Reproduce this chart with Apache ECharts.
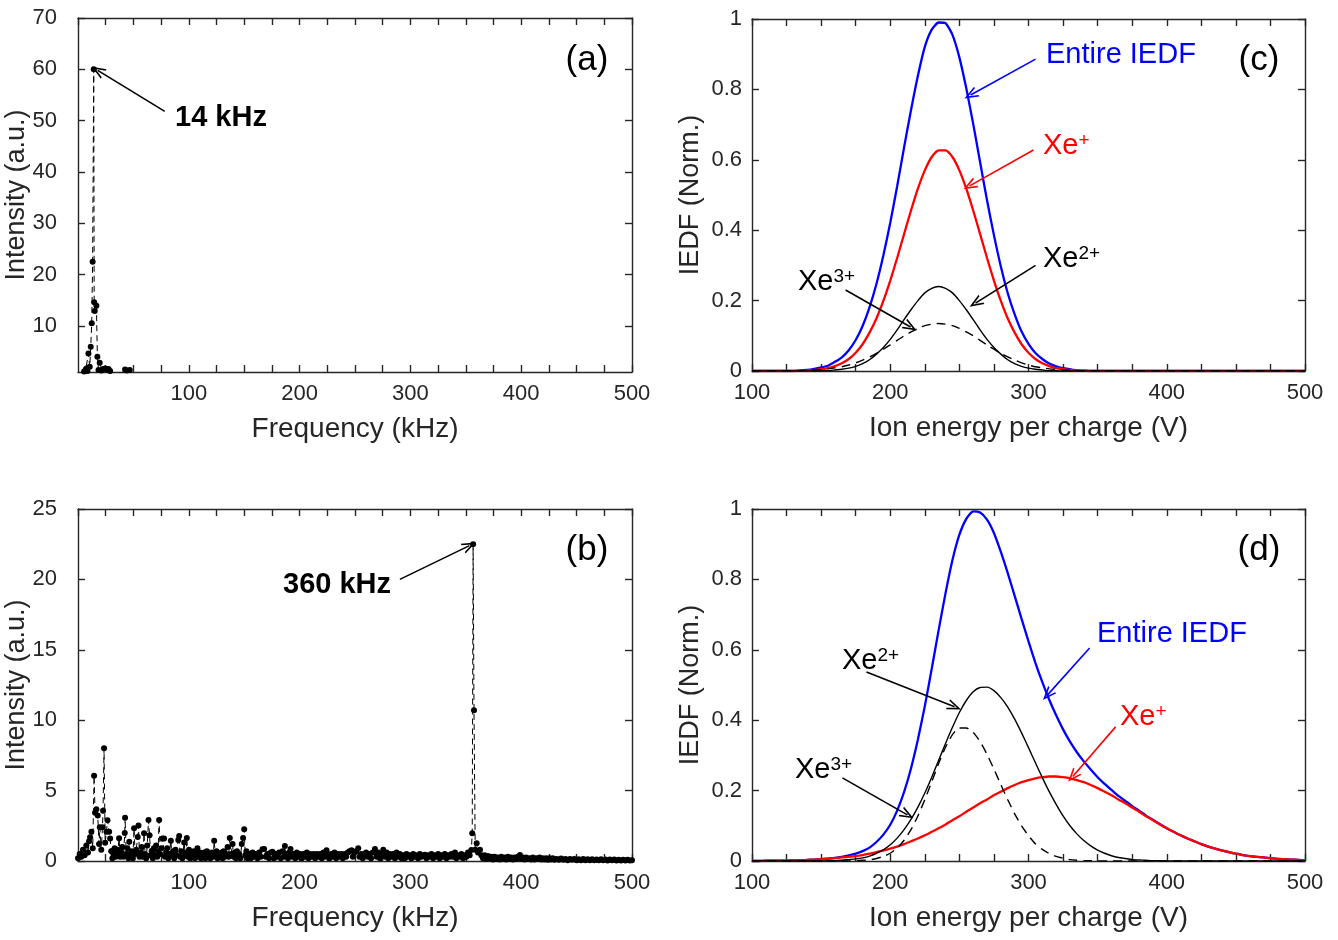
<!DOCTYPE html>
<html>
<head>
<meta charset="utf-8">
<title>FFT spectra and IEDF</title>
<script src="https://cdn.jsdelivr.net/npm/echarts@6/dist/echarts.min.js"></script>
<style>
  html, body { margin: 0; padding: 0; background: #fff; }
  #main { width: 1338px; height: 940px; }
</style>
</head>
<body>
<div id="main"></div>
<script>
// (a) oscillation spectrum, [kHz, a.u.]
var specA = [
  [3, 0.6], [5.5, 1.1], [7.0, 1.5], [7.6, 1.7], [8.5, 1.2], [9.4, 4.6], [10.6, 2.0], [11.5, 5.9],
  [12.4, 10.5], [13.2, 22.5], [14.2, 60], [14.6, 14.6], [15.1, 12.9], [16.6, 13.9], [17.5, 3.95],
  [18.5, 1.4], [19.6, 2.8], [21, 1.3], [22.5, 1.6], [24.5, 1.7], [26, 1.5], [27.5, 1.6], [29, 1.2],
  [31, 0.8], [35, 0.9], [40, 0.9], [42.5, 1.5], [44, 1.3], [46.7, 1.4], [48, 0.9], [52, 0.7],
  [60, 0.5], [100, 0.3], [200, 0.2], [300, 0.2], [357, 0.8], [400, 0.15], [500, 0.1]
];

// (b) oscillation spectrum, [kHz, a.u.]
var specB = [
  [0, 0.2], [1.5, 0.5], [3, 0.3], [4.5, 0.8], [6, 0.4], [7.5, 1.1], [9, 0.6], [10, 1.4], [10.9, 1.68],
  [12.1, 2.08], [13.3, 0.9], [14.5, 6.06], [15.4, 3.43], [16.6, 3.67], [17.8, 3.24], [19, 1.2], [19.7, 2.39],
  [21, 0.8], [22.1, 2.39], [22.6, 3.57], [23.5, 8.0], [24.5, 1.3], [25.7, 2.08], [26.6, 2.9], [28.1, 2.08],
  [29, 1.6], [30, 0.7], [31, 0.2], [32, 0.5], [33, 0.9], [34, 0.3], [35, 0.6], [36, 0.8], [37.1, 1.61],
  [38, 0.3], [39, 0.6], [40, 1.0], [41, 0.3], [42.2, 1.98], [42.5, 3.08], [43.5, 0.5], [44.5, 0.9], [45.5, 0.2],
  [46.3, 1.37], [47.5, 0.4], [48.5, 0.7], [49.5, 0.2], [50.6, 2.32], [51.5, 0.5], [52.5, 0.8], [53.9, 1.7],
  [54.6, 2.53], [55.5, 0.3], [56.5, 0.6], [57.5, 1.0], [58.5, 0.3], [59.6, 1.97], [60.5, 0.5], [61.5, 0.2],
  [62.5, 1.1], [63.6, 2.91], [64.6, 1.82], [65.5, 0.4], [66.5, 0.7], [67.5, 0.2], [68.5, 0.9], [69.5, 0.4],
  [70.5, 1.1], [71.5, 0.3], [72.3, 0.7], [73.2, 2.91], [74.2, 0.5], [75.2, 0.9], [76.2, 1.6], [77.7, 1.6],
  [78.5, 0.3], [79.5, 0.6], [80.5, 0.9], [81.5, 0.2], [82.5, 0.5], [83.8, 1.44], [84.8, 0.4], [85.8, 0.7],
  [86.8, 0.2], [88, 0.8], [89, 0.4], [90.5, 1.5], [91.3, 1.78], [92.2, 0.3], [93.2, 0.7], [94.2, 0.2],
  [95.8, 1.32], [96.8, 0.4], [97.6, 0.6], [98.2, 1.63], [99.2, 0.3], [100.2, 0.8], [101.2, 0.2], [102.5, 0.6],
  [103.5, 0.3], [104.5, 0.7], [105.5, 0.2], [106.5, 0.5], [107.8, 0.9], [108.8, 0.3], [110, 0.6], [111, 0.2],
  [112, 0.5], [113, 0.3], [114, 0.6], [115, 0.2], [116.3, 0.7], [117.5, 0.3], [118.5, 0.5], [119.5, 0.2],
  [120.8, 0.6], [122, 0.3], [122.9, 1.44], [124, 0.4], [125, 0.7], [126, 0.2], [127.2, 0.5], [128.5, 0.3],
  [129.5, 0.6], [130.5, 0.2], [131.5, 0.7], [132.5, 0.3], [133.5, 0.5], [135, 1.0], [136, 0.3], [137, 1.63],
  [138.2, 0.5], [139.5, 1.2], [140.5, 0.3], [141.5, 0.6], [142.5, 0.2], [143.5, 0.7], [144.5, 0.3], [145.5, 0.5],
  [146.5, 0.2], [147.8, 1.2], [149, 1.63], [150, 2.25], [151, 0.4], [152, 0.7], [153, 0.2], [154.5, 0.5],
  [156, 0.2], [157.5, 0.6], [159, 0.3], [160.5, 0.5], [162, 0.2], [163.5, 0.6], [165, 0.3], [166.5, 0.83],
  [168, 0.85], [169.5, 0.3], [171, 0.5], [172.5, 0.2], [174, 0.6], [175.5, 0.66], [177, 0.2], [178.5, 0.5],
  [180, 0.3], [181.5, 0.6], [183, 0.2], [184.5, 0.7], [186, 0.3], [186.7, 1.07], [188, 0.5], [189.5, 0.2],
  [190.8, 0.6], [191.8, 0.85], [193, 0.3], [194.5, 0.5], [196, 0.2], [197.5, 0.6], [199, 0.3], [200.5, 0.5],
  [202, 0.2], [203.5, 0.5], [205, 0.3], [206.5, 0.6], [208, 0.2], [209.5, 0.5], [211, 0.3], [212.5, 0.5],
  [214, 0.2], [215.5, 0.5], [217, 0.3], [218.5, 0.5], [220, 0.2], [221.5, 0.6], [223, 0.3], [224.3, 0.76],
  [225.5, 0.4], [227, 0.2], [228.5, 0.5], [230, 0.3], [231.5, 0.6], [233, 0.2], [234.5, 0.5], [236, 0.3],
  [237.5, 0.5], [239, 0.2], [240.5, 0.5], [242, 0.3], [243.5, 0.6], [245, 0.7], [246.9, 0.76], [248, 0.3],
  [249.5, 0.6], [251, 0.7], [252.9, 0.9], [254, 0.3], [255.5, 0.5], [257, 0.2], [258.5, 0.5], [260, 0.6],
  [261.5, 0.3], [263, 0.5], [264.5, 0.2], [266, 0.6], [268, 0.85], [269.5, 0.3], [271, 0.6], [272.5, 0.2],
  [274, 0.5], [275.5, 0.8], [277, 0.3], [278.5, 0.6], [280, 0.2], [281.5, 0.5], [283, 0.3], [284.5, 0.5],
  [286, 0.2], [287.5, 0.6], [289, 0.3], [290.5, 0.5], [292, 0.2], [293.5, 0.4], [295, 0.2], [296.5, 0.5],
  [298, 0.3], [299.5, 0.4], [301, 0.2], [302.5, 0.5], [304, 0.3], [305.5, 0.4], [307, 0.2], [308.5, 0.5],
  [310, 0.3], [311.5, 0.4], [313, 0.45], [314.5, 0.2], [316, 0.4], [317.5, 0.3], [319, 0.5], [320.5, 0.2],
  [322, 0.4], [323.5, 0.3], [325, 0.5], [326.5, 0.2], [328, 0.4], [329.5, 0.3], [331, 0.5], [332.5, 0.2],
  [334, 0.4], [335.5, 0.3], [337, 0.5], [338.5, 0.3], [340.2, 0.6], [341.5, 0.2], [343, 0.4], [344.5, 0.3],
  [346, 0.5], [347.5, 0.2], [349, 0.4], [350.5, 0.3], [352, 0.6], [353.5, 0.4], [355, 0.78], [355.8, 1.97],
  [356.6, 22.5], [357.4, 10.7], [358.5, 0.8], [359.8, 1.26], [361, 0.6], [362.8, 0.8], [364, 0.4], [365.5, 0.2],
  [367, 0.4], [368.5, 0.15], [370, 0.35], [371.5, 0.2], [373, 0.3], [374.5, 0.1], [376, 0.3], [377.5, 0.15],
  [379, 0.25], [380.5, 0.1], [382, 0.3], [383.5, 0.15], [385, 0.25], [386.5, 0.1], [388, 0.3], [389.5, 0.15],
  [391, 0.25], [392.5, 0.1], [394, 0.25], [395.5, 0.15], [397, 0.3], [398.9, 0.43], [400, 0.15], [401.5, 0.25],
  [403, 0.1], [404.5, 0.25], [406, 0.15], [407.5, 0.2], [409, 0.1], [410.5, 0.25], [412, 0.1], [413.5, 0.2],
  [415, 0.15], [416.5, 0.25], [418, 0.1], [419.5, 0.2], [421, 0.1], [422.5, 0.2], [424, 0.08], [425.5, 0.2],
  [427, 0.1], [428.5, 0.2], [430, 0.08], [432, 0.15], [434, 0.08], [436, 0.18], [438, 0.08], [440, 0.15],
  [442, 0.06], [444, 0.15], [446, 0.08], [448, 0.15], [450, 0.06], [452, 0.12], [454, 0.06], [456, 0.15],
  [458, 0.06], [460, 0.12], [462, 0.05], [464, 0.12], [466, 0.05], [468, 0.1], [470, 0.05], [472, 0.12],
  [474, 0.05], [476, 0.1], [478, 0.04], [480, 0.1], [482, 0.05], [484, 0.1], [486, 0.04], [488, 0.08],
  [490, 0.04], [492, 0.08], [494, 0.04], [496, 0.08], [498, 0.04], [500, 0.06]
];

// ion energy per charge (V), shared by (c) and (d)
var energy = [
  100, 105, 110, 115, 120, 125, 130, 135, 140, 145, 150, 155, 160, 165, 170, 175, 180, 185, 190, 195,
  200, 205, 210, 215, 220, 225, 230, 235, 240, 245, 250, 255, 260, 265, 270, 275, 280, 285, 290, 295,
  300, 305, 310, 315, 320, 325, 330, 335, 340, 345, 350, 355, 360, 365, 370, 375, 380, 385, 390, 395,
  400, 405, 410, 415, 420, 425, 430, 435, 440, 445, 450, 455, 460, 465, 470, 475, 480, 485, 490, 495, 500
];

// (c)
var cEntire = [
  0, 0, 0, 0, 0, 0, 0, 0.002, 0.003, 0.006, 0.010, 0.015, 0.026, 0.039, 0.059, 0.088, 0.128, 0.181, 0.247, 0.328,
  0.421, 0.525, 0.635, 0.741, 0.839, 0.921, 0.970, 0.990, 0.988, 0.955, 0.891, 0.803, 0.702, 0.593, 0.485, 0.386, 0.297, 0.221, 0.161, 0.112,
  0.077, 0.051, 0.034, 0.021, 0.013, 0.008, 0.005, 0.002, 0.001, 0, 0, 0, 0, 0, 0, 0, 0, 0, 0, 0,
  0, 0, 0, 0, 0, 0, 0, 0, 0, 0, 0, 0, 0, 0, 0, 0, 0, 0, 0, 0, 0
];
var cXe1 = [
  0, 0, 0, 0, 0, 0, 0, 0.001, 0.001, 0.003, 0.005, 0.008, 0.014, 0.022, 0.034, 0.052, 0.076, 0.109, 0.149, 0.199,
  0.257, 0.321, 0.389, 0.456, 0.518, 0.570, 0.608, 0.627, 0.627, 0.608, 0.570, 0.518, 0.456, 0.389, 0.321, 0.257, 0.199, 0.149, 0.109, 0.076,
  0.052, 0.034, 0.022, 0.014, 0.008, 0.005, 0.003, 0.001, 0.001, 0, 0, 0, 0, 0, 0, 0, 0, 0, 0, 0,
  0, 0, 0, 0, 0, 0, 0, 0, 0, 0, 0, 0, 0, 0, 0, 0, 0, 0, 0, 0, 0
];
var cXe2 = [
  0, 0, 0, 0, 0, 0, 0, 0, 0, 0, 0.001, 0.001, 0.003, 0.005, 0.008, 0.013, 0.021, 0.032, 0.048, 0.067,
  0.090, 0.117, 0.146, 0.174, 0.200, 0.222, 0.235, 0.240, 0.235, 0.222, 0.200, 0.174, 0.146, 0.117, 0.090, 0.067, 0.048, 0.032, 0.021, 0.013,
  0.008, 0.005, 0.003, 0.001, 0.001, 0, 0, 0, 0, 0, 0, 0, 0, 0, 0, 0, 0, 0, 0, 0,
  0, 0, 0, 0, 0, 0, 0, 0, 0, 0, 0, 0, 0, 0, 0, 0, 0, 0, 0, 0, 0
];
var cXe3 = [
  0, 0, 0, 0, 0, 0, 0, 0.001, 0.002, 0.003, 0.004, 0.006, 0.009, 0.012, 0.017, 0.023, 0.031, 0.040, 0.050, 0.062,
  0.074, 0.087, 0.100, 0.111, 0.121, 0.129, 0.133, 0.135, 0.133, 0.129, 0.121, 0.111, 0.100, 0.087, 0.074, 0.062, 0.050, 0.040, 0.031, 0.023,
  0.017, 0.012, 0.009, 0.006, 0.004, 0.003, 0.002, 0.001, 0, 0, 0, 0, 0, 0, 0, 0, 0, 0, 0, 0,
  0, 0, 0, 0, 0, 0, 0, 0, 0, 0, 0, 0, 0, 0, 0, 0, 0, 0, 0, 0, 0
];

// (d)
var dEntire = [
  0, 0, 0.001, 0.001, 0.001, 0.001, 0.002, 0.002, 0.003, 0.004, 0.005, 0.007, 0.009, 0.012, 0.016, 0.021, 0.028, 0.038, 0.054, 0.075,
  0.103, 0.143, 0.196, 0.263, 0.345, 0.440, 0.546, 0.656, 0.761, 0.855, 0.927, 0.972, 0.993, 0.990, 0.970, 0.932, 0.878, 0.818, 0.753, 0.688,
  0.624, 0.563, 0.508, 0.458, 0.414, 0.374, 0.339, 0.309, 0.283, 0.260, 0.238, 0.219, 0.202, 0.185, 0.171, 0.156, 0.143, 0.129, 0.117, 0.105,
  0.093, 0.083, 0.073, 0.064, 0.056, 0.048, 0.041, 0.035, 0.030, 0.025, 0.021, 0.017, 0.014, 0.012, 0.010, 0.008, 0.006, 0.005, 0.004, 0.003, 0.002
];
var dXe1 = [
  0, 0, 0.001, 0.001, 0.001, 0.001, 0.002, 0.002, 0.003, 0.004, 0.005, 0.006, 0.008, 0.010, 0.012, 0.014, 0.017, 0.021, 0.025, 0.030,
  0.035, 0.041, 0.048, 0.056, 0.064, 0.073, 0.083, 0.093, 0.104, 0.116, 0.127, 0.140, 0.152, 0.164, 0.175, 0.187, 0.197, 0.207, 0.216, 0.224,
  0.230, 0.235, 0.238, 0.240, 0.240, 0.238, 0.235, 0.230, 0.224, 0.216, 0.207, 0.197, 0.187, 0.175, 0.164, 0.152, 0.140, 0.127, 0.116, 0.104,
  0.093, 0.083, 0.073, 0.064, 0.056, 0.048, 0.041, 0.035, 0.030, 0.025, 0.021, 0.017, 0.014, 0.012, 0.010, 0.008, 0.006, 0.005, 0.004, 0.003, 0.002
];
var dXe2 = [
  0, 0, 0, 0, 0, 0, 0, 0, 0, 0, 0, 0.001, 0.001, 0.002, 0.004, 0.006, 0.009, 0.014, 0.022, 0.032,
  0.046, 0.065, 0.089, 0.118, 0.153, 0.193, 0.238, 0.286, 0.334, 0.380, 0.422, 0.456, 0.481, 0.493, 0.494, 0.484, 0.464, 0.437, 0.403, 0.364,
  0.322, 0.279, 0.237, 0.197, 0.161, 0.128, 0.100, 0.077, 0.058, 0.043, 0.031, 0.022, 0.015, 0.010, 0.007, 0.004, 0.003, 0.002, 0.001, 0.001,
  0, 0, 0, 0, 0, 0, 0, 0, 0, 0, 0, 0, 0, 0, 0, 0, 0, 0, 0, 0, 0
];
var dXe3 = [
  0, 0, 0, 0, 0, 0, 0, 0, 0, 0, 0, 0, 0, 0, 0, 0.001, 0.002, 0.003, 0.007, 0.013,
  0.022, 0.037, 0.059, 0.089, 0.128, 0.174, 0.225, 0.277, 0.323, 0.359, 0.378, 0.378, 0.365, 0.339, 0.303, 0.261, 0.217, 0.174, 0.134, 0.100,
  0.072, 0.049, 0.033, 0.021, 0.013, 0.008, 0.004, 0.002, 0.001, 0.001, 0, 0, 0, 0, 0, 0, 0, 0, 0, 0,
  0, 0, 0, 0, 0, 0, 0, 0, 0, 0, 0, 0, 0, 0, 0, 0, 0, 0, 0, 0, 0
];

// annotation arrows [fromX, fromY, toX, toY] in data units
var arrowA = [[78.3, 51.8, 17.8, 59.8]];
var arrowB = [[290.5, 20.0, 353.3, 22.4]];
var arrowCEntire = [[305.1, 0.886, 258.1, 0.784]];
var arrowCXe1 = [[303.6, 0.628, 257.4, 0.526]];
var arrowCXe2 = [[305.1, 0.300, 261.7, 0.193]];
var arrowCXe3 = [[167.7, 0.230, 214.7, 0.125]];
var arrowDEntire = [[344.2, 0.605, 313.8, 0.472]];
var arrowDXe1 = [[363.0, 0.381, 332.0, 0.240]];
var arrowDXe2 = [[182.8, 0.537, 246.5, 0.438]];
var arrowDXe3 = [[165.4, 0.236, 212.4, 0.131]];

var intensityTicksA = [10, 20, 30, 40, 50, 60, 70];

var FONT = '"Liberation Sans", Arial, Helvetica, sans-serif';
var AXIS = '#262626';
var BLUE = '#0000ff', RED = '#ff0000', BLACK = '#000000';

var myChart = echarts.init(document.getElementById('main'));

function pairs(xs, ys) {
  return xs.map(function (x, i) { return [x, ys[i]]; });
}

var chevron = 'path://M5,0L10,12L8.4,12L5,3.8L1.6,12L0,12Z';
function arrowLine(list, color) {
  return {
    silent: true,
    animation: false,
    symbol: ['none', chevron],
    symbolSize: [11, 14],
    label: { show: false },
    emphasis: { disabled: true },
    lineStyle: { type: 'solid', width: 1.6, color: color },
    data: list.map(function (a) {
      return [{ coord: [a[0], a[1]] }, { coord: [a[2], a[3]] }];
    })
  };
}

function xAx(g, pos, min, max, showLab, showMinLab, name) {
  return {
    type: 'value', gridIndex: g, position: pos, min: min, max: max, interval: 25,
    axisLine: { show: true, onZero: false, lineStyle: { color: AXIS, width: 1.4 } },
    axisTick: { show: true, inside: true, length: 7, lineStyle: { color: AXIS, width: 1.4 } },
    splitLine: { show: false },
    axisLabel: {
      show: showLab, margin: 11, fontSize: 22, color: AXIS, fontFamily: FONT,
      showMinLabel: showMinLab, showMaxLabel: true,
      formatter: function (v) { return v % 100 === 0 ? String(v) : ''; }
    },
    name: name, nameLocation: 'middle', nameGap: 43, nameMoveOverlap: false,
    nameTextStyle: { fontSize: 28, color: AXIS, fontFamily: FONT }
  };
}

function yAx(g, pos, min, max, interval, custom, showLab, margin, name, nameGap) {
  var ax = {
    type: 'value', gridIndex: g, position: pos, min: min, max: max,
    axisLine: { show: true, onZero: false, lineStyle: { color: AXIS, width: 1.4 } },
    axisTick: { show: true, inside: true, length: 7, lineStyle: { color: AXIS, width: 1.4 } },
    splitLine: { show: false },
    axisLabel: { show: showLab, margin: margin, fontSize: 22, color: AXIS, fontFamily: FONT },
    name: name, nameLocation: 'middle', nameGap: nameGap, nameMoveOverlap: false,
    nameTextStyle: { fontSize: 27, color: AXIS, fontFamily: FONT }
  };
  if (interval) ax.interval = interval;
  if (custom) {
    ax.axisLabel.customValues = custom;
    ax.axisTick.customValues = custom;
  }
  return ax;
}

function stemSeries(g, data, arrows) {
  return {
    type: 'line', xAxisIndex: g, yAxisIndex: g, data: data,
    symbol: 'circle', symbolSize: 6, showSymbol: true, clip: true,
    itemStyle: { color: BLACK },
    lineStyle: { color: BLACK, width: 1, type: [6, 4] },
    emphasis: { disabled: true },
    markLine: arrowLine(arrows, BLACK),
    z: 3
  };
}

function curve(g, ys, color, width, dash, arrows) {
  var s = {
    type: 'line', xAxisIndex: g, yAxisIndex: g, data: pairs(energy, ys),
    showSymbol: false, symbol: 'none', smooth: 0.2,
    lineStyle: { color: color, width: width, type: dash ? [9, 6] : 'solid' },
    itemStyle: { color: color },
    emphasis: { disabled: true }
  };
  if (arrows) s.markLine = arrowLine(arrows, color);
  return s;
}

function richLabel(x, y, main, sup, color) {
  return {
    type: 'text', x: x, y: y, z: 10,
    style: {
      text: '{b|' + main + '}' + (sup ? '{s|' + sup + '}' : ''),
      verticalAlign: 'middle', align: 'left', fill: color,
      rich: {
        b: { fontSize: 29, fontFamily: FONT, fill: color, color: color },
        s: { fontSize: 19, fontFamily: FONT, fill: color, color: color, verticalAlign: 'top', lineHeight: 14 }
      }
    }
  };
}

function plainLabel(x, y, text, size, weight, align) {
  return {
    type: 'text', x: x, y: y, z: 10,
    style: {
      text: text, fill: BLACK, fontSize: size, fontWeight: weight, fontFamily: FONT,
      verticalAlign: 'middle', align: align
    }
  };
}

var option = {
  backgroundColor: '#ffffff',
  animation: false,
  grid: [
    { left: 78, top: 18, width: 554, height: 354 },
    { left: 78, top: 509, width: 554, height: 352 },
    { left: 752, top: 19, width: 553, height: 352 },
    { left: 752, top: 509, width: 553, height: 352 }
  ],
  xAxis: [
    xAx(0, 'bottom', 0, 500, true, false, 'Frequency (kHz)'),
    xAx(1, 'bottom', 0, 500, true, false, 'Frequency (kHz)'),
    xAx(2, 'bottom', 100, 500, true, true, 'Ion energy per charge (V)'),
    xAx(3, 'bottom', 100, 500, true, true, 'Ion energy per charge (V)'),
    xAx(0, 'top', 0, 500, false, false, ''),
    xAx(1, 'top', 0, 500, false, false, ''),
    xAx(2, 'top', 100, 500, false, false, ''),
    xAx(3, 'top', 100, 500, false, false, '')
  ],
  yAxis: [
    yAx(0, 'left', 1, 70, null, intensityTicksA, true, 21, 'Intensity (a.u.)', 48),
    yAx(1, 'left', 0, 25, 5, null, true, 21, 'Intensity (a.u.)', 48),
    yAx(2, 'left', 0, 1, 0.2, null, true, 10, 'IEDF (Norm.)', 48),
    yAx(3, 'left', 0, 1, 0.2, null, true, 10, 'IEDF (Norm.)', 48),
    yAx(0, 'right', 1, 70, null, intensityTicksA, false, 10, '', 0),
    yAx(1, 'right', 0, 25, 5, null, false, 10, '', 0),
    yAx(2, 'right', 0, 1, 0.2, null, false, 10, '', 0),
    yAx(3, 'right', 0, 1, 0.2, null, false, 10, '', 0)
  ],
  series: [
    stemSeries(0, specA, arrowA),
    stemSeries(1, specB, arrowB),
    curve(2, cEntire, BLUE, 2.3, false, arrowCEntire),
    curve(2, cXe1, RED, 2.3, false, arrowCXe1),
    curve(2, cXe2, BLACK, 1.4, false, arrowCXe2.concat(arrowCXe3)),
    curve(2, cXe3, BLACK, 1.4, true, null),
    curve(3, dEntire, BLUE, 2.3, false, arrowDEntire),
    curve(3, dXe1, RED, 2.3, false, arrowDXe1),
    curve(3, dXe2, BLACK, 1.4, false, arrowDXe2.concat(arrowDXe3)),
    curve(3, dXe3, BLACK, 1.4, true, null)
  ],
  graphic: [
    plainLabel(175, 118, '14 kHz', 29, 'bold', 'left'),
    plainLabel(283, 585, '360 kHz', 29, 'bold', 'left'),
    plainLabel(587, 60, '(a)', 35, 'normal', 'center'),
    plainLabel(587, 550, '(b)', 35, 'normal', 'center'),
    plainLabel(1259, 60, '(c)', 35, 'normal', 'center'),
    plainLabel(1259, 550, '(d)', 35, 'normal', 'center'),
    richLabel(1046, 55, 'Entire IEDF', null, BLUE),
    richLabel(1043, 146, 'Xe', '+', RED),
    richLabel(1043, 259, 'Xe', '2+', BLACK),
    richLabel(798, 282, 'Xe', '3+', BLACK),
    richLabel(1097, 634, 'Entire IEDF', null, BLUE),
    richLabel(1120, 717, 'Xe', '+', RED),
    richLabel(842, 661, 'Xe', '2+', BLACK),
    richLabel(795, 770, 'Xe', '3+', BLACK)
  ]
};

myChart.setOption(option);

window.addEventListener('resize', function () {
  myChart.resize();
});
</script>
</body>
</html>
